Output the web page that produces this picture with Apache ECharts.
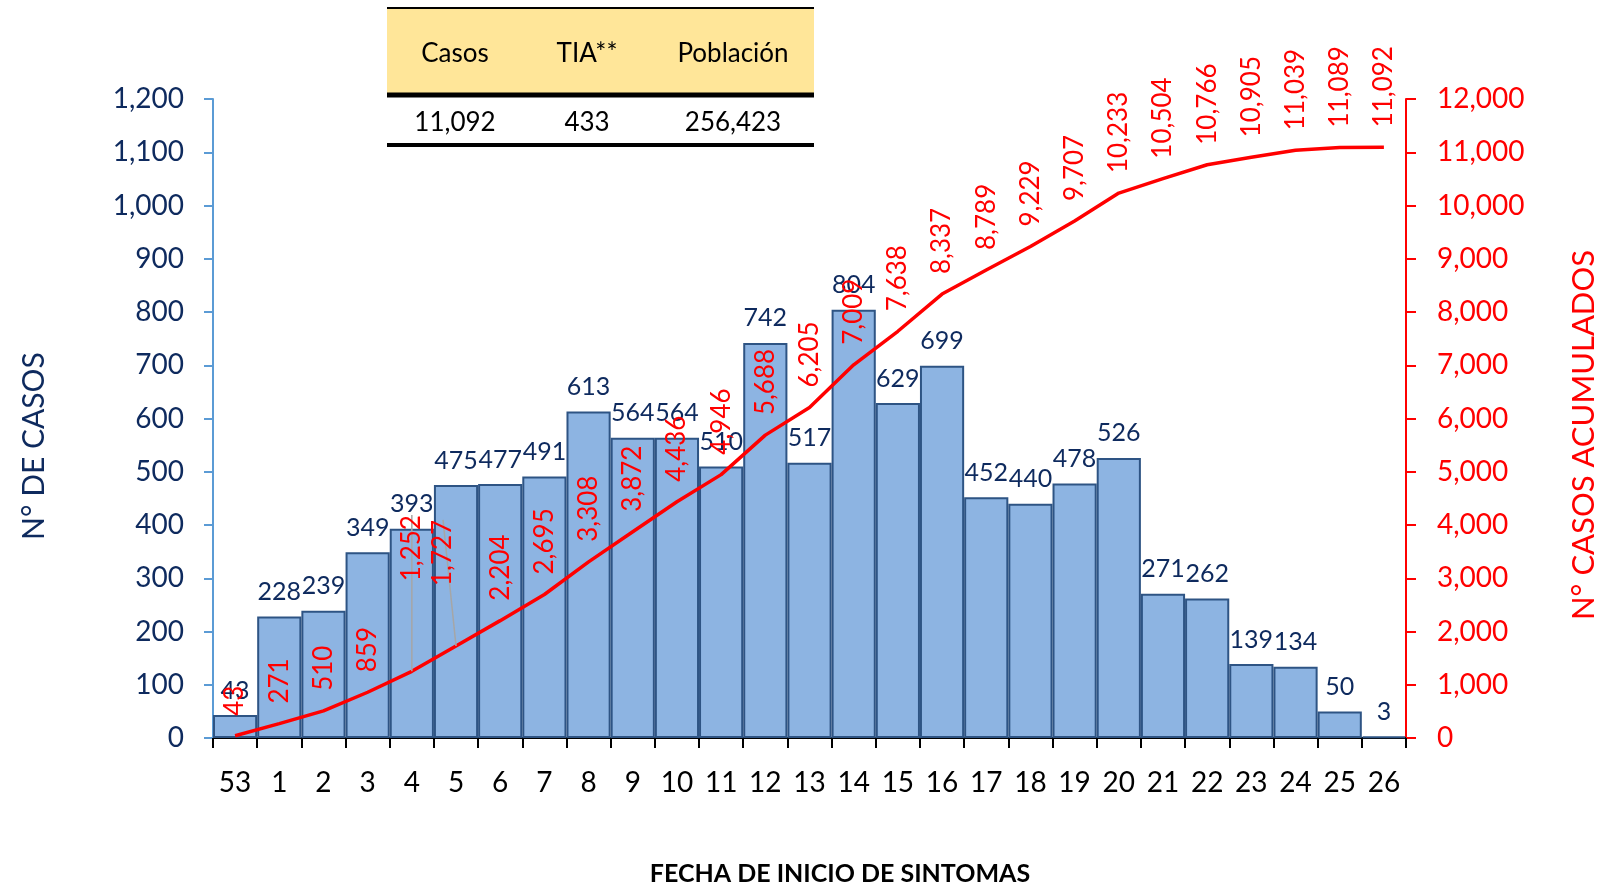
<!DOCTYPE html>
<html>
<head>
<meta charset="utf-8">
<script src="https://cdn.jsdelivr.net/npm/echarts@6/dist/echarts.min.js"></script>
<style>
html,body{margin:0;padding:0;background:#fff;}
#chart{width:1624px;height:886px;}
</style>
</head>
<body>
<div id="chart"></div>
<script>
var categories = ['53','1','2','3','4','5','6','7','8','9','10','11','12','13','14','15','16','17','18','19','20','21','22','23','24','25','26'];
var casos = [43,228,239,349,393,475,477,491,613,564,564,510,742,517,804,629,699,452,440,478,526,271,262,139,134,50,3];
var acumulados = [43,271,510,859,1252,1727,2204,2695,3308,3872,4436,4946,5688,6205,7009,7638,8337,8789,9229,9707,10233,10504,10766,10905,11039,11089,11092];
var tableHeaders = ['Casos','TIA**','Población'];
var tableValues = ['11,092','433','256,423'];
var leftTicks = {min:0, max:1200, interval:100};
var rightTicks = {min:0, max:12000, interval:1000};

var FONT = 'Lato';
var NAVY = '#0E2A5E';
var fmt = function(v){ return Number(v).toLocaleString('en-US'); };

var chart = echarts.init(document.getElementById('chart'));

var colX = [455, 587, 733];
var graphics = [
  {type:'rect', shape:{x:387, y:9, width:427, height:84}, style:{fill:'#FFE699'}},
  {type:'line', shape:{x1:387, y1:8, x2:814, y2:8}, style:{stroke:'#000', lineWidth:2}},
  {type:'line', shape:{x1:387, y1:95, x2:814, y2:95}, style:{stroke:'#000', lineWidth:5}},
  {type:'line', shape:{x1:387, y1:145, x2:814, y2:145}, style:{stroke:'#000', lineWidth:4}}
];
tableHeaders.forEach(function(t,i){
  graphics.push({type:'text', x:colX[i], y:54, style:{text:t, fontFamily:FONT, fontSize:26, fill:'#000', align:'center', verticalAlign:'middle'}});
});
tableValues.forEach(function(t,i){
  graphics.push({type:'text', x:colX[i], y:123, style:{text:t, fontFamily:FONT, fontSize:26, fill:'#000', align:'center', verticalAlign:'middle'}});
});

// label nudges for crowded cumulative labels (in the rotated label frame: dx = up, dy = right)
var labelNudge = {4:{dx:70, dy:0}, 5:{dx:40, dy:-13}};
var lineData = acumulados.map(function(v,i){
  return labelNudge[i] ? {value:v, labelLine:{show:true}} : {value:v};
});

chart.setOption({
  animation:false,
  textStyle:{fontFamily:FONT},
  grid:{left:213, right:218, top:99, bottom:148, outerBoundsMode:'none', containLabel:false},
  graphic:graphics,
  xAxis:{
    type:'category',
    data:categories,
    name:'FECHA DE INICIO DE SINTOMAS',
    nameLocation:'middle',
    nameGap:123,
    nameTextStyle:{fontFamily:FONT, fontSize:25, fontWeight:'bold', color:'#000', padding:[0,0,0,61]},
    axisLine:{lineStyle:{color:'#000', width:2}},
    axisTick:{show:true, alignWithLabel:false, length:10, lineStyle:{color:'#000', width:2}},
    axisLabel:{fontFamily:FONT, fontSize:28, color:'#000', margin:31, interval:0},
    splitLine:{show:false}
  },
  yAxis:[
    {
      type:'value', min:leftTicks.min, max:leftTicks.max, interval:leftTicks.interval,
      name:'N° DE CASOS', nameLocation:'middle', nameRotate:90, nameGap:164,
      nameTextStyle:{fontFamily:FONT, fontSize:30, color:NAVY, padding:[0,55,0,0]},
      axisLine:{show:true, lineStyle:{color:'#5B9BD5', width:2}},
      axisTick:{show:true, length:9, lineStyle:{color:'#5B9BD5', width:2}},
      axisLabel:{fontFamily:FONT, fontSize:28, color:NAVY, margin:29, formatter:fmt},
      splitLine:{show:false}
    },
    {
      type:'value', min:rightTicks.min, max:rightTicks.max, interval:rightTicks.interval,
      position:'right',
      name:'N° CASOS ACUMULADOS', nameLocation:'middle', nameRotate:90, nameGap:162,
      nameTextStyle:{fontFamily:FONT, fontSize:31, color:'#FF0000', padding:[0,33,0,0]},
      axisLine:{show:true, lineStyle:{color:'#FF0000', width:2}},
      axisTick:{show:true, length:10, lineStyle:{color:'#FF0000', width:2}},
      axisLabel:{fontFamily:FONT, fontSize:28, color:'#FF0000', margin:31, formatter:fmt},
      splitLine:{show:false}
    }
  ],
  series:[
    {
      type:'bar',
      data:casos,
      yAxisIndex:0,
      barCategoryGap:'0%',
      itemStyle:{color:'#8DB4E2', borderColor:'#2E5484', borderWidth:2},
      label:{show:true, position:'top', distance:12, fontFamily:FONT, fontSize:25, color:NAVY}
    },
    {
      type:'line',
      data:lineData,
      yAxisIndex:1,
      symbol:'circle',
      symbolSize:0,
      showSymbol:true,
      itemStyle:{color:'#FF0000'},
      lineStyle:{color:'#FF0000', width:3.5},
      label:{show:true, position:'top', distance:20, rotate:90, align:'left', verticalAlign:'middle',
             fontFamily:FONT, fontSize:26, color:'#FF0000', formatter:function(p){return fmt(p.value);}},
      labelLine:{show:false, lineStyle:{color:'#A6A6A6', width:1.5}},
      labelLayout:function(params){
        var m = labelNudge[params.dataIndex];
        return m ? {dx:m.dx, dy:m.dy} : {};
      }
    }
  ]
});
</script>
</body>
</html>
